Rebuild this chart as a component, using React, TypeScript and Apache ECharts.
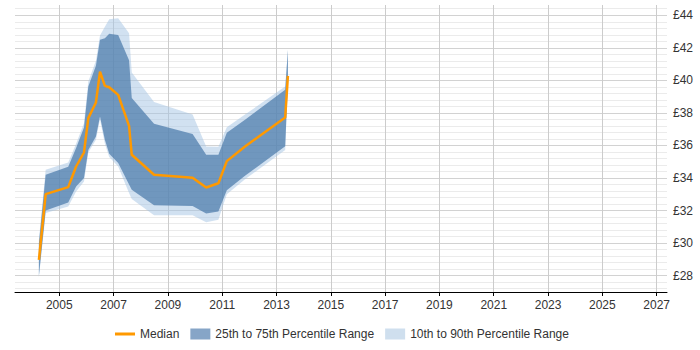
import React, { useEffect, useRef } from "react";
import * as echarts from "echarts";

// Sample dates (decimal years) and daily-rate percentiles in £
const years = [
  2004.25, 2004.5, 2005.33, 2005.62, 2005.91, 2006.07, 2006.35, 2006.5, 2006.68,
  2006.84, 2007.17, 2007.57, 2007.67, 2008.49, 2009.91, 2010.41, 2010.86, 2011.17,
  2011.84, 2013.32, 2013.42,
];
const median = [
  28.98, 33.01, 33.44, 34.71, 35.57, 37.68, 38.64, 40.54, 39.66, 39.58, 39.11,
  37.21, 35.43, 34.2, 34.02, 33.42, 33.68, 35.04, 35.94, 37.72, 40.28,
];
const p25 = [
  28.0, 32.01, 32.5, 33.48, 34.0, 35.73, 36.55, 37.78, 36.35, 35.49, 34.92,
  33.6, 33.28, 32.33, 32.28, 31.82, 31.95, 33.25, 34.14, 35.96, 40.0,
];
const p75 = [
  30.0, 34.2, 34.7, 35.84, 37.1, 39.62, 40.9, 42.49, 42.59, 42.86, 42.79,
  41.23, 38.91, 37.34, 36.71, 35.43, 35.43, 36.78, 37.58, 39.42, 41.87,
];
const p10 = [
  27.9, 31.85, 32.25, 33.18, 33.79, 35.57, 36.35, 37.6, 36.1, 35.29, 34.71,
  33.08, 32.71, 31.72, 31.71, 31.28, 31.44, 33.0, 33.93, 35.73, 39.9,
];
const p90 = [
  30.2, 34.51, 34.95, 36.1, 37.37, 39.93, 41.2, 42.75, 43.3, 43.76, 43.82,
  42.9, 40.49, 38.67, 37.9, 35.94, 35.92, 37.12, 37.9, 39.62, 41.87,
];

const yearTicks = [2005, 2007, 2009, 2011, 2013, 2015, 2017, 2019, 2021, 2023, 2025, 2027];
const payTicks = [28, 30, 32, 34, 36, 38, 40, 42, 44];

const SERIES_MEDIAN = "Median";
const SERIES_IQR = "25th to 75th Percentile Range";
const SERIES_OUTER = "10th to 90th Percentile Range";

const FONT = "'Liberation Sans', Arial, sans-serif";
const TEXT_COLOR = "#333";
const MEDIAN_COLOR = "#ff9900";
const IQR_FILL = "rgba(75,122,170,0.72)";
const OUTER_FILL = "rgba(163,196,228,0.5)";

// fine horizontal rules every £0.4 between the labelled ones
function minorRules(from: number, to: number, step: number, skip: number[]) {
  const out: number[] = [];
  for (let v = from; v <= to + 1e-9; v += step) {
    const r = Math.round(v * 10) / 10;
    if (!skip.includes(r)) out.push(r);
  }
  return out;
}

// One filled polygon spanning lo..hi across all sample dates
function bandSeries(name: string, lo: number[], hi: number[], fill: string, z: number) {
  return {
    type: "custom" as const,
    name,
    z,
    silent: true,
    itemStyle: { color: fill },
    data: years.map((y, i) => [y, lo[i], hi[i]]),
    encode: { x: 0, y: [1, 2] },
    renderItem: (params: any, api: any) => {
      if (params.dataIndex !== 0) return null;
      const upper = years.map((y, i) => api.coord([y, hi[i]]));
      const lower = years.map((y, i) => api.coord([y, lo[i]])).reverse();
      return {
        type: "polygon",
        shape: { points: upper.concat(lower) },
        style: { fill, stroke: "none" },
      };
    },
  };
}

export default function App() {
  const ref = useRef<HTMLDivElement>(null);

  useEffect(() => {
    document.body.style.margin = "0";
    if (!ref.current) return;
    const chart = echarts.init(ref.current, null, { renderer: "svg" });

    chart.setOption({
      animation: false,
      grid: { left: 15, right: 33, top: 5, bottom: 58 },
      legend: {
        left: 115,
        top: 328,
        padding: 0,
        itemWidth: 20,
        itemHeight: 11,
        itemGap: 11,
        symbolKeepAspect: true,
        textStyle: { fontFamily: FONT, fontSize: 12, color: TEXT_COLOR },
        data: [
          {
            name: SERIES_MEDIAN,
            icon: "path://M0,0 L20,0 L20,3 L0,3 Z",
            itemStyle: { color: MEDIAN_COLOR },
          },
          { name: SERIES_IQR, icon: "rect", itemStyle: { color: "#86a5c7" } },
          { name: SERIES_OUTER, icon: "rect", itemStyle: { color: "#cfdfee" } },
        ],
      },
      xAxis: {
        type: "value",
        min: 2003.37,
        max: 2027.38,
        axisLine: { show: true, lineStyle: { color: "#000", width: 1 } },
        axisTick: { show: true, length: 4, customValues: yearTicks, lineStyle: { color: "#000" } },
        axisLabel: {
          customValues: yearTicks,
          formatter: (v: number) => String(v),
          fontFamily: FONT,
          fontSize: 12,
          color: TEXT_COLOR,
          margin: 7,
        },
        splitLine: { show: true, lineStyle: { color: "#cccccc", width: 1 } },
      },
      yAxis: [
        {
          type: "value",
          position: "right",
          min: 27,
          max: 44.63,
          axisLine: { show: false },
          axisTick: { show: false, customValues: payTicks },
          axisLabel: {
            customValues: payTicks,
            formatter: (v: number) => "£" + v,
            fontFamily: FONT,
            fontSize: 12,
            color: TEXT_COLOR,
            margin: 6,
          },
          splitLine: { show: true, lineStyle: { color: "#d2d2d2", width: 1 } },
        },
        {
          type: "value",
          position: "right",
          min: 27,
          max: 44.63,
          axisLine: { show: false },
          axisTick: { show: false, customValues: minorRules(27.2, 44.4, 0.4, payTicks) },
          axisLabel: { show: false },
          splitLine: { show: true, lineStyle: { color: "#ebebeb", width: 1 } },
        },
      ],
      series: [
        bandSeries(SERIES_OUTER, p10, p90, OUTER_FILL, 2),
        bandSeries(SERIES_IQR, p25, p75, IQR_FILL, 3),
        {
          type: "line",
          name: SERIES_MEDIAN,
          data: years.map((y, i) => [y, median[i]]),
          symbol: "none",
          showSymbol: false,
          itemStyle: { color: MEDIAN_COLOR },
          lineStyle: { color: MEDIAN_COLOR, width: 2.5 },
          z: 5,
        },
      ],
    });

    return () => chart.dispose();
  }, []);

  return <div ref={ref} style={{ width: 700, height: 350 }} />;
}
